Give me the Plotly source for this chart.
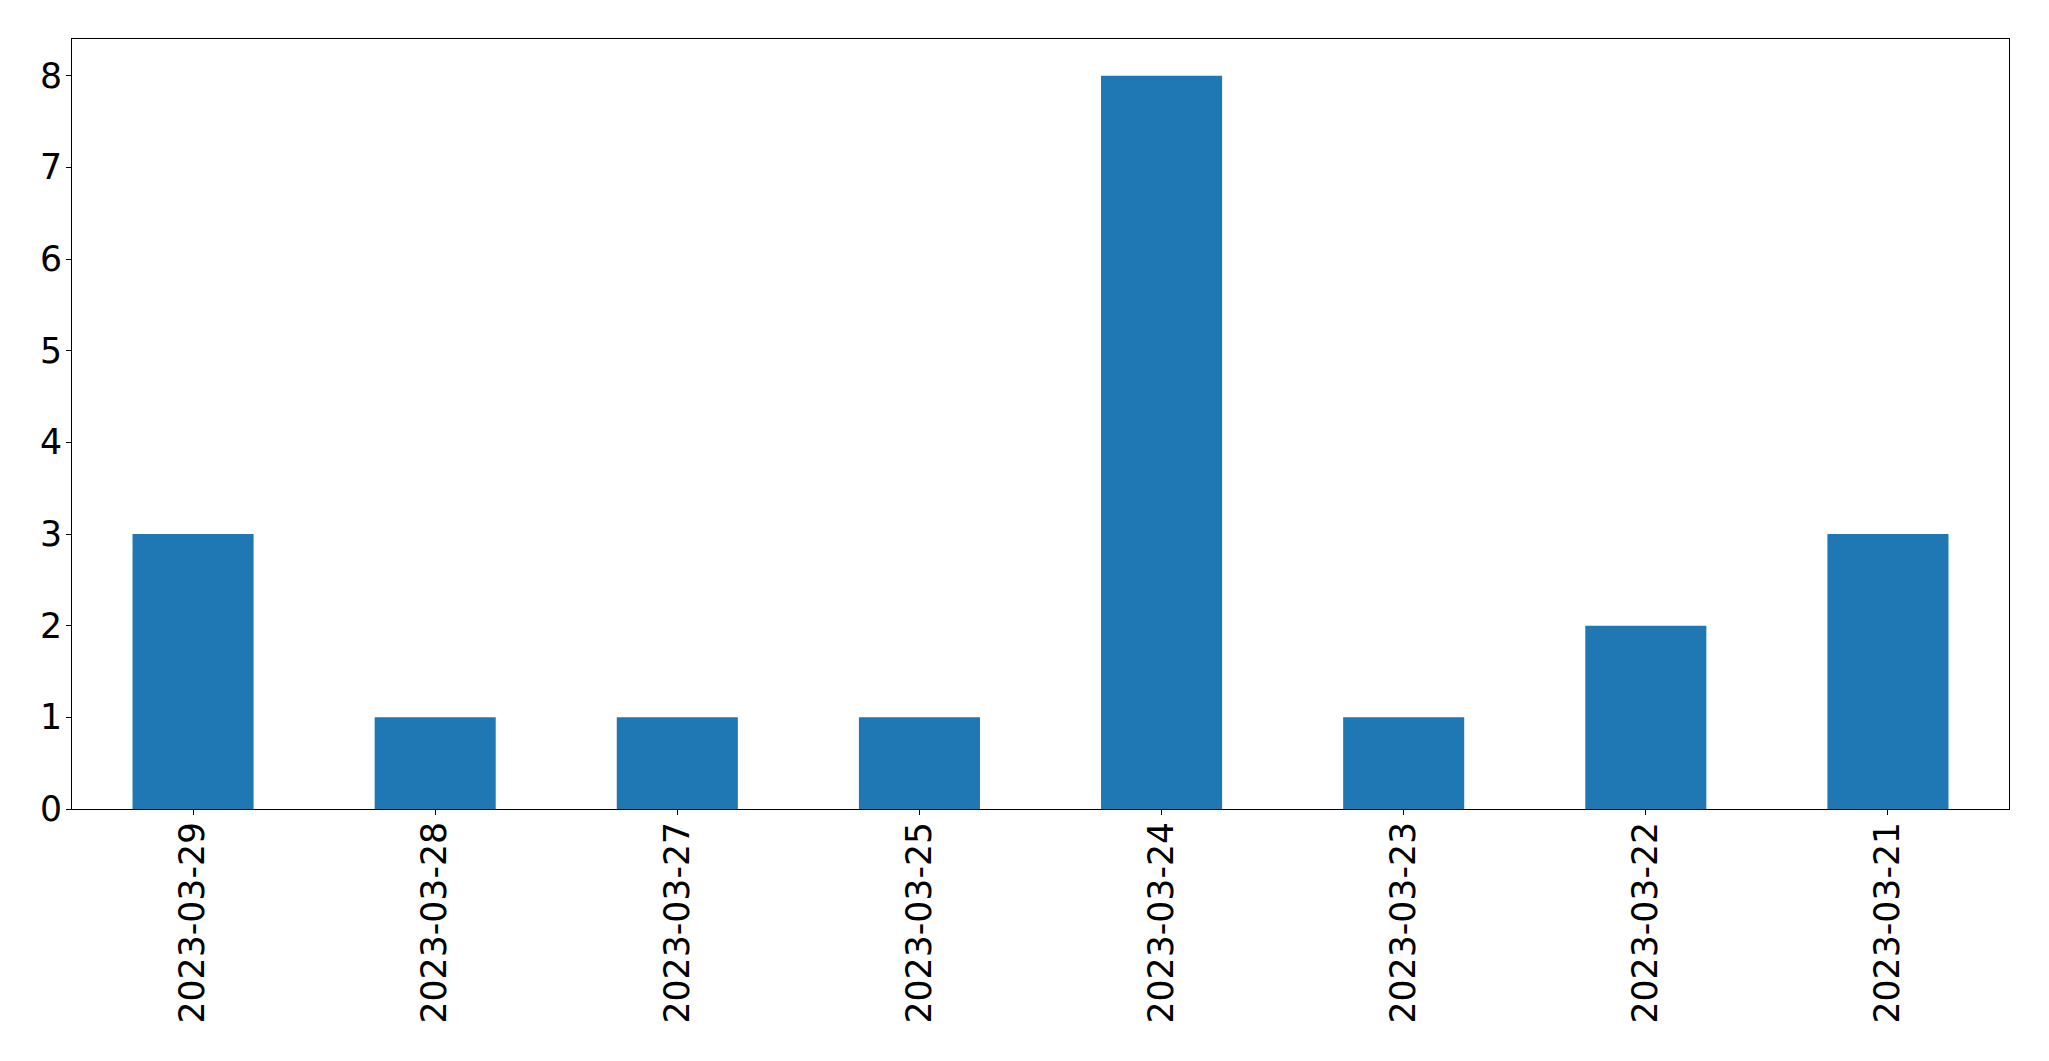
import plotly.graph_objects as go

dates = ["2023-03-29", "2023-03-28", "2023-03-27", "2023-03-25",
         "2023-03-24", "2023-03-23", "2023-03-22", "2023-03-21"]
counts = [3, 1, 1, 1, 8, 1, 2, 3]
y_ticks = [0, 1, 2, 3, 4, 5, 6, 7, 8]

fig = go.Figure(go.Bar(x=dates, y=counts, width=0.5, marker=dict(color="#1f77b4", line=dict(width=0))))

font = dict(family="DejaVu Sans", size=34.7, color="black")
fig.update_layout(
    width=2049, height=1061,
    margin=dict(l=64, r=48, t=31, b=260, autoexpand=False),
    paper_bgcolor="white", plot_bgcolor="white",
    showlegend=False,
    font=font,
)
fig.update_xaxes(
    type="category", range=[-0.5, 7.5],
    showline=True, linecolor="black", linewidth=1.1, mirror=True,
    ticks="outside", ticklen=5, tickwidth=1.1, tickcolor="black",
    tickangle=-90, tickfont=font, showgrid=False, zeroline=False,
    ticklabelstandoff=-7,
)
fig.update_yaxes(
    range=[0, 8.4], tickvals=y_ticks,
    showline=True, linecolor="black", linewidth=1.1, mirror=True,
    ticks="outside", ticklen=5, tickwidth=1.1, tickcolor="black",
    tickfont=font, showgrid=False, zeroline=False,
    ticklabelstandoff=-3,
)

fig.write_html("out.html", config={"displayModeBar": False})
